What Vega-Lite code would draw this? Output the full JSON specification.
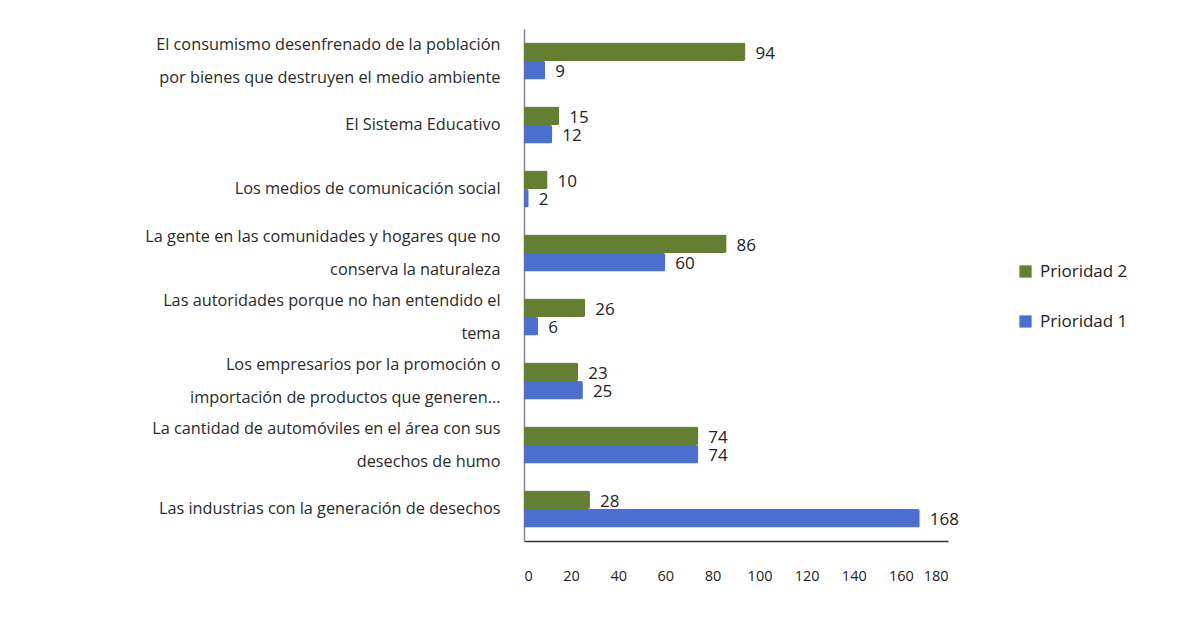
{
  "$schema": "https://vega.github.io/schema/vega-lite/v6.json",
  "autosize": {"type": "none"},
  "width": 424,
  "height": 512,
  "padding": {"left": 524, "top": 29, "right": 229, "bottom": 81},
  "background": "white",
  "config": {
    "view": {"stroke": null},
    "font": "Open Sans"
  },
  "data": {
    "values": [
      {"causa": "El consumismo desenfrenado de la población|por bienes que destruyen el medio ambiente", "serie": "Prioridad 2", "valor": 94},
      {"causa": "El consumismo desenfrenado de la población|por bienes que destruyen el medio ambiente", "serie": "Prioridad 1", "valor": 9},
      {"causa": "El Sistema Educativo", "serie": "Prioridad 2", "valor": 15},
      {"causa": "El Sistema Educativo", "serie": "Prioridad 1", "valor": 12},
      {"causa": "Los medios de comunicación social", "serie": "Prioridad 2", "valor": 10},
      {"causa": "Los medios de comunicación social", "serie": "Prioridad 1", "valor": 2},
      {"causa": "La gente en las comunidades y hogares que no|conserva la naturaleza", "serie": "Prioridad 2", "valor": 86},
      {"causa": "La gente en las comunidades y hogares que no|conserva la naturaleza", "serie": "Prioridad 1", "valor": 60},
      {"causa": "Las autoridades porque no han entendido el|tema", "serie": "Prioridad 2", "valor": 26},
      {"causa": "Las autoridades porque no han entendido el|tema", "serie": "Prioridad 1", "valor": 6},
      {"causa": "Los empresarios por la promoción o|importación de productos que generen...", "serie": "Prioridad 2", "valor": 23},
      {"causa": "Los empresarios por la promoción o|importación de productos que generen...", "serie": "Prioridad 1", "valor": 25},
      {"causa": "La cantidad de automóviles en el área con sus|desechos de humo", "serie": "Prioridad 2", "valor": 74},
      {"causa": "La cantidad de automóviles en el área con sus|desechos de humo", "serie": "Prioridad 1", "valor": 74},
      {"causa": "Las industrias con la generación de desechos", "serie": "Prioridad 2", "valor": 28},
      {"causa": "Las industrias con la generación de desechos", "serie": "Prioridad 1", "valor": 168}
    ]
  },
  "encoding": {
    "y": {
      "field": "causa",
      "type": "nominal",
      "sort": null,
      "title": null,
      "scale": {"paddingInner": 0.42, "paddingOuter": 0.21},
      "axis": {
        "labelExpr": "split(datum.label, '|')",
        "labelLineHeight": 33,
        "labelFontSize": 16.3,
        "labelColor": "#2a2a2a",
        "labelPadding": 24,
        "labelLimit": 520,
        "ticks": false,
        "domainColor": "#888888",
        "domainWidth": 1.5,
        "labelOffset": {"condition": {"test": "indexof(datum.value, '|') >= 0", "value": -16.5}, "value": 0}
      }
    },
    "x": {
      "field": "valor",
      "type": "quantitative",
      "title": null,
      "scale": {"domain": [0, 180], "nice": false},
      "axis": {
        "values": [0, 20, 40, 60, 80, 100, 120, 140, 160, 180],
        "grid": false,
        "ticks": false,
        "labelPadding": 28,
        "labelFontSize": 14.5,
        "labelColor": "#222222",
        "domainColor": "#333333",
        "domainWidth": 1.5
      }
    },
    "yOffset": {"field": "serie", "type": "nominal", "sort": ["Prioridad 2", "Prioridad 1"]}
  },
  "layer": [
    {
      "mark": {"type": "bar", "cornerRadiusEnd": 2},
      "encoding": {
        "color": {
          "field": "serie",
          "type": "nominal",
          "scale": {"domain": ["Prioridad 2", "Prioridad 1"], "range": ["#637f31", "#4a6fd1"]},
          "legend": {
            "title": null,
            "orient": "none",
            "legendX": 493,
            "legendY": 234,
            "symbolType": "square",
            "symbolSize": 150,
            "symbolStrokeWidth": 0,
            "labelFontSize": 17,
            "labelColor": "#222222",
            "rowPadding": 32,
            "labelOffset": 6
          }
        }
      }
    },
    {
      "mark": {"type": "text", "align": "left", "dx": 10, "dy": 2, "fontSize": 17, "color": "#222222"},
      "encoding": {
        "text": {"field": "valor", "type": "quantitative"}
      }
    }
  ]
}
